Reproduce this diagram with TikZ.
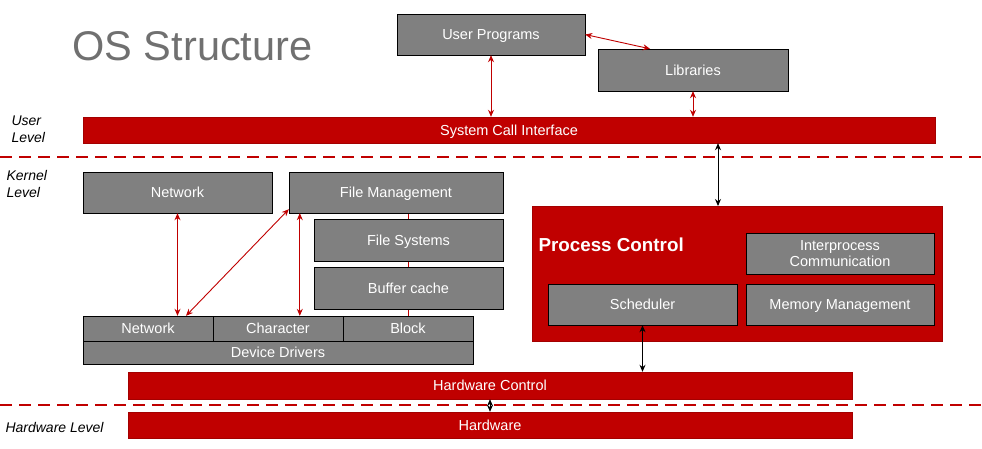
\documentclass[tikz,border=0pt]{standalone}
\usepackage{fontspec}
\setmainfont{Liberation Sans}
\usepackage{xcolor}
\usetikzlibrary{arrows.meta,positioning,calc,backgrounds}

\definecolor{osred}{HTML}{C00000}
\definecolor{osgray}{HTML}{808080}
\definecolor{ostitle}{HTML}{707070}

\begin{document}
\begin{tikzpicture}[
  x=1pt, y=-1pt,
  gbox/.style={draw=black, fill=osgray, text=white, inner sep=0pt, text height=10.5pt, text depth=0pt, font=\fontsize{14.5}{16}\selectfont, align=center},
  rbar/.style={draw=osred!85!black, fill=osred, text=white, inner sep=0pt, text height=10.5pt, text depth=0pt, font=\fontsize{14.5}{16}\selectfont},
  lvl/.style={font=\fontsize{14}{17}\selectfont\itshape, align=left, anchor=west},
  redarrow/.style={{Stealth[length=7pt,width=6pt]}-{Stealth[length=7pt,width=6pt]}, osred, line width=0.9pt},
  blkarrow/.style={{Stealth[length=7pt,width=6pt]}-{Stealth[length=7pt,width=6pt]}, black, line width=0.9pt},
  sep/.style={osred, line width=2pt, dash pattern=on 12pt off 7pt},
]
\useasboundingbox (0,0) rectangle (982,448);

% title and levels
\node[anchor=west, text=ostitle, font=\fontsize{41.5}{44}\selectfont] (title) at (69,46) {OS Structure};
\node[lvl] (userlvl) at (8,129) {User\\Level};
\node[lvl] (kernlvl) at (3,184) {Kernel\\Level};
\node[lvl] (hwlvl) at (2,427) {Hardware Level};

% user level
\node[gbox, minimum width=188, minimum height=41] (uprog) at (491,34.5) {User Programs};
\node[gbox, minimum width=190, minimum height=42] (libs) at (693,70) {Libraries};
\node[rbar, minimum width=852, minimum height=26] (sci) at (509,130) {System Call Interface};

\draw[sep] (0,157) -- (982,157);

% kernel level: files and network
\node[gbox, minimum width=189, minimum height=41] (knet) at (177.5,192.5) {Network};
\node[gbox, minimum width=214, minimum height=41] (fmgmt) at (396,192.5) {File Management};
\node[gbox, minimum width=189, minimum height=42] (fsys) at (408.5,240) {File Systems};
\node[gbox, minimum width=189, minimum height=42] (bcache) at (408.5,288) {Buffer cache};

% device drivers
\node[gbox, minimum width=130, minimum height=25] (dnet) at (148,328.5) {Network};
\node[gbox, minimum width=130, minimum height=25] (dchar) at (278,328.5) {Character};
\node[gbox, minimum width=130, minimum height=25] (dblock) at (408,328.5) {Block};
\node[gbox, minimum width=390, minimum height=23] (ddrv) at (278,352.5) {Device Drivers};

% process control
\node[rbar, minimum width=410, minimum height=135] (pctrl) at (737,273.5) {};
\node[anchor=west, text=white, font=\fontsize{18.8}{20}\selectfont\bfseries] (pctitle) at (535,245) {Process Control};
\node[gbox, text height={}, text depth={}, minimum width=188, minimum height=41] (ipc) at (840,253.5) {Interprocess\\Communication};
\node[gbox, minimum width=189, minimum height=41] (sched) at (642.5,304.5) {Scheduler};
\node[gbox, minimum width=188, minimum height=41] (memm) at (840,304.5) {Memory Management};

% hardware
\node[rbar, minimum width=724, minimum height=27] (hwctrl) at (490,385.5) {Hardware Control};
\draw[sep] (0,404.5) -- (982,404.5);
\node[rbar, minimum width=724, minimum height=26] (hw) at (490,425) {Hardware};

% connectors
\begin{scope}[on background layer]
  \draw[osred] (dblock.north) -- (dblock.north |- fmgmt.south);
\end{scope}
\draw[redarrow] (uprog.south) -- (uprog.south |- sci.north);
\draw[redarrow] (libs.south) -- (libs.south |- sci.north);
\draw[redarrow] (uprog.east) -- ([xshift=-43pt]libs.north);
\draw[redarrow] (knet.south) -- (knet.south |- dnet.north);
\draw[redarrow] ([yshift=4pt]fmgmt.south west) -- ([xshift=38pt]dnet.north);
\draw[redarrow] ([xshift=11pt]fmgmt.south west) -- ([xshift=11pt]fmgmt.south west |- dchar.north);

\coordinate (pcin) at (718,206);
\draw[blkarrow] (pcin |- sci.south) -- (pcin);
\draw[blkarrow] (sched.south) -- (sched.south |- hwctrl.north);
\draw[blkarrow] (hwctrl.south) -- (hw.north);
\end{tikzpicture}
\end{document}
